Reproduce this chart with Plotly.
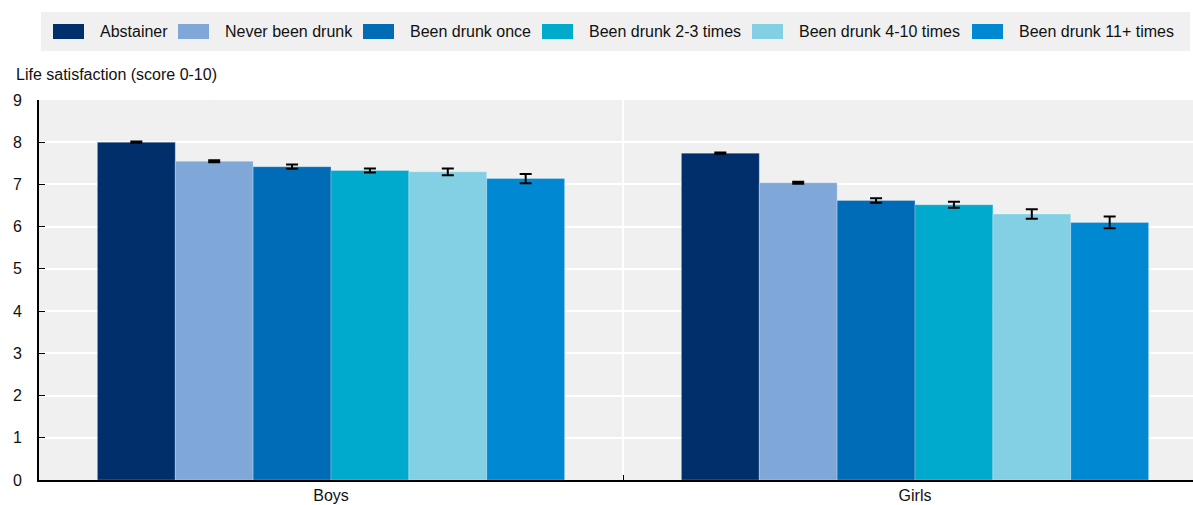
import plotly.graph_objects as go

# Life satisfaction by drinking experience
groups = ["Boys", "Girls"]
series_names = ["Abstainer", "Never been drunk", "Been drunk once",
                "Been drunk 2-3 times", "Been drunk 4-10 times", "Been drunk 11+ times"]
boys_values = [8.00, 7.55, 7.42, 7.33, 7.30, 7.14]
girls_values = [7.74, 7.04, 6.62, 6.52, 6.30, 6.10]
boys_errors = [0.015, 0.025, 0.05, 0.05, 0.08, 0.11]
girls_errors = [0.015, 0.025, 0.055, 0.07, 0.11, 0.14]
y_ticks = [0, 1, 2, 3, 4, 5, 6, 7, 8, 9]

colors = ["#002F6C", "#7FA8D9", "#006BB6", "#00AACC", "#83D0E4", "#0089D2"]

W, H = 1193, 505
ML, MR, MT, MB = 39, 0, 100, 25
PW = W - ML - MR
PH = H - MT - MB
FONT = "Arial, Liberation Sans, sans-serif"


def px_x(x):
    return (x - ML) / PW


def px_y(y):
    return (H - MB - y) / PH


fig = go.Figure()
for i, name in enumerate(series_names):
    fig.add_trace(go.Bar(
        x=groups,
        y=[boys_values[i], girls_values[i]],
        name=name,
        marker=dict(color=colors[i], line=dict(width=1, color="rgba(255,255,255,0.25)")),
        error_y=dict(type="data", array=[boys_errors[i], girls_errors[i]],
                     color="#000000", thickness=2, width=6),
        showlegend=False,
    ))

# Legend band drawn across the top
shapes = [dict(type="rect", xref="paper", yref="paper",
               x0=px_x(41), x1=px_x(1190), y0=px_y(51), y1=px_y(12),
               fillcolor="#F0F0F0", line=dict(width=0), layer="below")]
annotations = []
swatch_x = [53, 178, 363, 542, 752, 972]
for i, name in enumerate(series_names):
    x0 = swatch_x[i]
    shapes.append(dict(type="rect", xref="paper", yref="paper",
                       x0=px_x(x0), x1=px_x(x0 + 31), y0=px_y(39), y1=px_y(24),
                       fillcolor=colors[i], line=dict(width=0)))
    annotations.append(dict(xref="paper", yref="paper", x=px_x(x0 + 45), y=px_y(31.5),
                            text=name, showarrow=False, xanchor="left", yanchor="middle",
                            font=dict(family=FONT, size=16, color="#111111")))

annotations.append(dict(xref="paper", yref="paper", x=px_x(14), y=px_y(74),
                        text="Life satisfaction (score 0-10)", showarrow=False,
                        xanchor="left", yanchor="middle",
                        font=dict(family=FONT, size=16, color="#111111")))

fig.update_layout(
    width=W, height=H,
    margin=dict(l=ML, r=MR, t=MT, b=MB, pad=0),
    paper_bgcolor="white",
    plot_bgcolor="#F0F0F0",
    barmode="group",
    bargap=0.2,
    bargroupgap=0,
    font=dict(family=FONT, size=16, color="#111111"),
    shapes=shapes,
    annotations=annotations,
    xaxis=dict(
        type="category",
        range=[-0.5, -0.5 + PW / 584],
        tickson="boundaries",
        ticks="inside", ticklen=5, tickcolor="#000000", tickwidth=1,
        showgrid=True, gridcolor="white", gridwidth=2,
        showline=True, linecolor="#000000", linewidth=2,
        tickfont=dict(size=16, color="#111111"),
        zeroline=False,
        fixedrange=True,
    ),
    yaxis=dict(
        range=[0, 9],
        tickvals=y_ticks,
        ticks="inside", ticklen=6, tickcolor="#000000", tickwidth=1,
        showgrid=True, gridcolor="white", gridwidth=2,
        showline=True, linecolor="#000000", linewidth=2,
        zeroline=False,
        tickfont=dict(size=16, color="#111111"),
        ticklabelstandoff=12,
        fixedrange=True,
    ),
)

fig.write_html("out.html")
